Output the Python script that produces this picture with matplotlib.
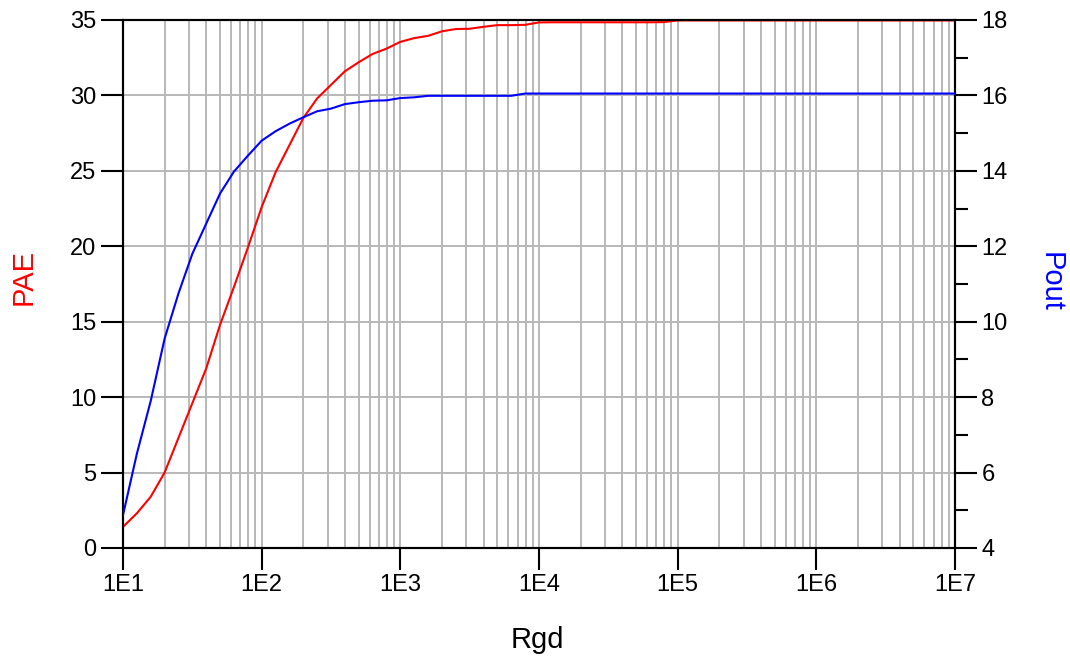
import numpy as np
import matplotlib.pyplot as plt
from matplotlib.ticker import FixedLocator, MultipleLocator, NullFormatter

plt.rcParams['font.family'] = ['Liberation Sans', 'DejaVu Sans']

# Rgd sweep: 10 points per decade, 1E1 .. 1E7
rgd_exp = np.arange(61) / 10.0 + 1.0
rgd = 10 ** rgd_exp

pae = [1.4, 2.3, 3.4, 5.0, 7.3, 9.6, 11.9, 14.8, 17.3, 19.9,
       22.6, 24.9, 26.7, 28.5, 29.8, 30.7, 31.6, 32.2, 32.75, 33.1,
       33.55, 33.8, 33.95, 34.25, 34.4, 34.42, 34.55, 34.66, 34.66, 34.68,
       34.84, 34.85, 34.85, 34.85, 34.85, 34.85, 34.85, 34.85, 34.85, 34.86,
       34.97, 34.97, 34.97, 34.97, 34.97, 34.97, 34.97, 34.97, 34.97, 34.97,
       34.97, 34.97, 34.97, 34.97, 34.97, 34.97, 34.97, 34.97, 34.97, 34.97,
       34.97]

pout = [4.87, 6.5, 7.9, 9.55, 10.75, 11.8, 12.6, 13.4, 13.98, 14.4,
        14.8, 15.05, 15.25, 15.42, 15.58, 15.65, 15.77, 15.82, 15.86, 15.87,
        15.93, 15.95, 15.99, 15.99, 15.99, 15.99, 15.99, 15.99, 15.99, 16.05,
        16.05, 16.05, 16.05, 16.05, 16.05, 16.05, 16.05, 16.05, 16.05, 16.05,
        16.05, 16.05, 16.05, 16.05, 16.05, 16.05, 16.05, 16.05, 16.05, 16.05,
        16.05, 16.05, 16.05, 16.05, 16.05, 16.05, 16.05, 16.05, 16.05, 16.05,
        16.05]

xtick_exp = [1, 2, 3, 4, 5, 6, 7]
xtick_labels = ['1E1', '1E2', '1E3', '1E4', '1E5', '1E6', '1E7']

W, H = 1070, 661
fig = plt.figure(figsize=(W/100, H/100), dpi=100)
ax = fig.add_axes([123/W, 1 - 548/H, (955-123)/W, (548-20)/H])
ax2 = ax.twinx()

grid_col = '#b8b8b8'
ax.set_xscale('log')
ax.set_xlim(1e1, 1e7)
ax.set_ylim(0, 35)
ax2.set_ylim(4, 18)

major = [10.0 ** e for e in xtick_exp]
minor = [m * 10.0 ** e for e in xtick_exp[:-1] for m in range(2, 10)]
ax.set_xticks(major, xtick_labels)
ax.xaxis.set_minor_locator(FixedLocator(minor))
ax.xaxis.set_minor_formatter(NullFormatter())
ax.yaxis.set_major_locator(MultipleLocator(5))
ax2.yaxis.set_major_locator(MultipleLocator(2))
ax2.yaxis.set_minor_locator(MultipleLocator(1))

ax.grid(True, which='both', axis='x', color=grid_col, lw=1.4)
ax.grid(True, which='major', axis='y', color=grid_col, lw=1.4)
ax.set_axisbelow(True)

ax.plot(rgd, pae, color='red', lw=1.5, zorder=3)
ax2.plot(rgd, pout, color='blue', lw=1.5, zorder=3)

for a in (ax, ax2):
    for s in a.spines.values():
        s.set_linewidth(1.5)
        s.set_color('black')
ax.tick_params(axis='both', which='major', direction='out', length=16, width=1.5, labelsize=17, pad=3)
ax.tick_params(axis='x', which='minor', length=0)
ax2.tick_params(axis='y', which='major', direction='out', length=16, width=1.5, labelsize=17, pad=3)
ax2.tick_params(axis='y', which='minor', direction='out', length=9, width=1.5)

# axis titles placed in figure pixels
fig.text(537/W, 1 - 640/H, 'Rgd', fontsize=21, ha='center', va='center')
fig.text(24/W, 1 - 277/H, 'PAE', fontsize=21, color='red', rotation=90, ha='center', va='center')
fig.text(1051/W, 1 - 282/H, 'Pout', fontsize=21, color='blue', rotation=270, ha='center', va='center')

fig.savefig('out.png', dpi=100)
